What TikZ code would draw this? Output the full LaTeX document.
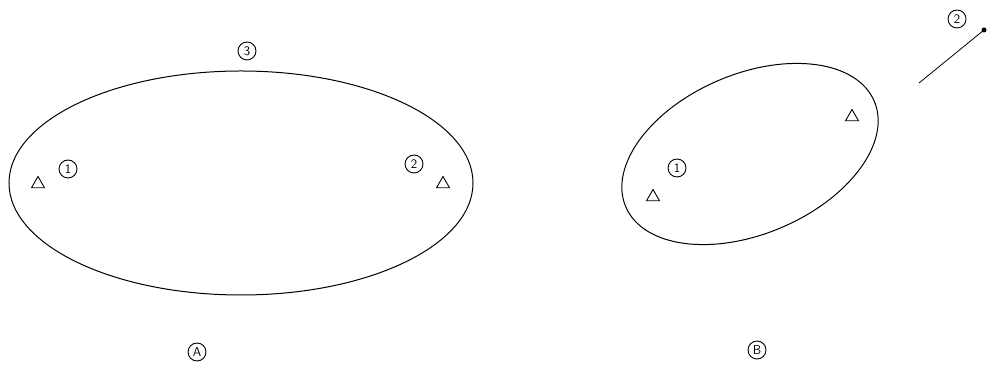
\documentclass[tikz,border=0pt]{standalone}
\usepackage{tikz}
\usetikzlibrary{shapes.geometric}

\begin{document}
\begin{tikzpicture}[x=1pt, y=1pt, line width=1pt,
    numtag/.style={draw, circle, line width=0.9pt, minimum size=18pt,
        inner sep=0pt, font=\sffamily\fontsize{13}{15}\selectfont},
    station/.style={draw, regular polygon, regular polygon sides=3,
        minimum size=15pt, inner sep=0pt, line width=0.9pt}]

    \useasboundingbox (0, 0) rectangle (987, 366);

    % Case A: flat ellipse with two stations
    \draw (241, 183) ellipse [x radius=232, y radius=112];
    \node[numtag] (topA) at (247, 315) {3};
    \node[station] (triA1) at (38, 182) {};
    \node[numtag] (numA1) at (68, 197) {1};
    \node[station] (triA2) at (443, 182) {};
    \node[numtag] (numA2) at (414, 202) {2};

    % Case B: tilted ellipse
    \draw[rotate around={23:(750, 212)}] (750, 212)
        ellipse [x radius=135, y radius=80];
    \node[station] (triB1) at (653, 169) {};
    \node[numtag] (numB1) at (677, 198) {1};
    \node[station] (triB2) at (852, 249) {};

    % Station 2 moved out of the ellipse
    \coordinate (tail) at (919, 283);
    \node[fill, circle, inner sep=0pt, minimum size=5pt] (dotB) at (984, 336) {};
    \draw[line width=0.8pt] (tail) -- (dotB.center);
    \node[numtag] (numB2) at (957, 347) {2};

    % Case labels
    \node[numtag] (caseA) at (197, 14) {A};
    \node[numtag] (caseB) at (757, 16) {B};

\end{tikzpicture}
\end{document}
